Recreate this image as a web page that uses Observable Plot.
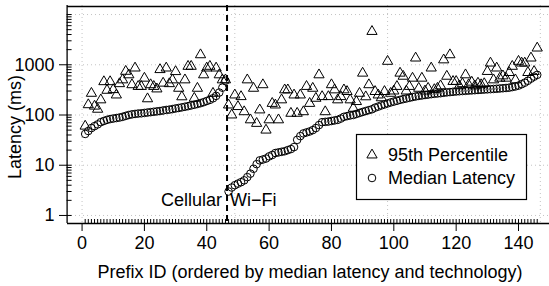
<!DOCTYPE html>
<html><head><meta charset="utf-8">
<script src="https://cdn.jsdelivr.net/npm/d3@7"></script>
<script src="https://cdn.jsdelivr.net/npm/@observablehq/plot@0.6"></script>
<style>
body{margin:0;background:#fff}
#chart{width:549px;height:286px;overflow:hidden;position:relative}
#chart svg{overflow:hidden}
</style>
</head><body><div id="chart"></div>
<script>
// Cellular prefixes (ordered by median latency)
const cellularMedian = [42,48,55,60,65,72,76,80,83,85,87,89,92,96,100,103,105,107,108,110,112,114,116,118,120,123,126,128,131,135,138,142,146,150,155,160,166,172,180,190,200,215,240,280,350,480];
const cellularP95 = [60,160,270,150,130,200,460,310,460,320,250,420,500,740,630,400,860,370,370,540,210,400,370,330,800,430,860,420,500,730,340,230,500,930,930,215,340,1580,630,860,930,270,860,630,500,500];
// Wi-Fi prefixes (ordered by median latency)
const wifiMedian = [3.0,3.6,4.0,4.3,4.6,5.0,5.8,6.8,8.5,10.5,12.5,13,13.6,15,16,17.5,18,18.5,19,20,21,23,32,38,43,45,47,50,55,63,72,73,74,76,78,80,85,92,95,98,100,105,110,115,120,125,130,140,147,155,162,170,178,185,192,200,207,213,220,228,234,240,245,250,255,260,264,268,272,277,282,286,290,294,297,300,303,306,309,312,315,318,321,324,327,330,333,337,341,345,350,360,370,385,410,440,480,530,580,630];
const wifiP95 = [158,100,250,147,232,116,500,80,340,68,126,400,50,80,170,158,80,200,316,316,108,250,108,250,116,370,170,340,215,630,232,116,232,400,316,200,232,316,293,200,136,185,270,680,230,400,4600,293,250,220,293,1170,270,300,370,680,590,300,370,540,1360,340,540,300,340,860,320,340,380,1250,590,1580,465,465,380,420,630,400,450,380,430,400,420,735,1080,500,860,540,600,540,700,930,500,1170,1080,1080,700,1360,735,2150];

const xTicks = [0,20,40,60,80,100,120,140];
const yTicks = [1,10,100,1000];
const gridX = [0,49,98,147];
const gridY = [1,10,100,1000,10000];
const boundary = 46.5;
const regionLabels = [
  {text:"Cellular", y:2, anchor:"end", dx:-5},
  {text:"Wi\u2212Fi", y:2, anchor:"start", dx:3}
];
const legendLabels = ["95th Percentile","Median Latency"];
const xTitle = "Prefix ID (ordered by median latency and technology)";
const yTitle = "Latency (ms)";

const rows = [];
cellularMedian.forEach((v,i)=>rows.push({id:i+1, tech:"Cellular", median:v, p95:cellularP95[i]}));
wifiMedian.forEach((v,i)=>rows.push({id:cellularMedian.length+i+1, tech:"Wi-Fi", median:v, p95:wifiP95[i]}));

const xMin = -4.8, xMax = 151.8;
const yMin = 10**-0.16, yMax = 10**4.16;
const minorY = [];
for (let k=0;k<=4;k++) for (let d=1;d<=9;d++){const v=d*10**k; if (v<=yMax) minorY.push(v);}
const rugTop = yMin*10**(4/50.25);

const font = "'Liberation Sans', Arial, Helvetica, sans-serif";
const gridStyle = {stroke:"#c4c4c4", strokeDasharray:"1,3", strokeWidth:1};

const chart = Plot.plot({
  width:549, height:286,
  marginLeft:67, marginRight:0, marginTop:5, marginBottom:63,
  x:{domain:[xMin,xMax], range:[66.6,554.8]},
  y:{type:"log", domain:[yMin,yMax], range:[223,6]},
  style:{fontFamily:font, fontSize:"18px", background:"white", color:"black"},
  marks:[
    Plot.ruleY(gridY, gridStyle),
    Plot.ruleX(gridX, gridStyle),
    Plot.ruleY(minorY, {x1:xMin, x2:xMin+1.6, stroke:"black", strokeWidth:1}),
    Plot.ruleX(rows, {x:"id", y1:yMin, y2:rugTop, stroke:"black", strokeWidth:1}),
    Plot.ruleX([boundary], {stroke:"black", strokeWidth:2, strokeDasharray:"6,4"}),
    Plot.dot(rows, {x:"id", y:"p95", symbol:"triangle", r:3.8, stroke:"black", fill:"none", strokeWidth:1}),
    Plot.dot(rows, {x:"id", y:"median", symbol:"circle", r:3.8, stroke:"black", fill:"none", strokeWidth:1}),
    Plot.text(regionLabels, {x:()=>boundary, y:"y", text:"text", fontSize:18,
      render:(index, scales, values, dims, ctx, next)=>{const g=next(index, scales, values, dims, ctx);
        d3.select(g).selectAll("text").each(function(d,i){const r=regionLabels[index[i]]; d3.select(this).attr("text-anchor", r.anchor).attr("dx", r.dx);}); return g;}}),
    Plot.ruleY([yMin, yMax], {stroke:"black", strokeWidth:1.3}),
    Plot.ruleX([xMin], {stroke:"black", strokeWidth:1.3}),
    Plot.axisX({ticks:xTicks, tickSize:8, tickPadding:5, tickFormat:d3.format("d"), label:null, fontSize:18}),
    Plot.axisY({ticks:yTicks, tickSize:8, tickPadding:5, tickFormat:d=>String(d), label:null, fontSize:18})
  ]
});

const svg = d3.select(chart);
// axis titles
svg.append("text").attr("font-family", font).attr("font-size", 18).attr("text-anchor","middle")
  .attr("x", 310).attr("y", 272).attr("dy","0.35em").text(xTitle);
svg.append("text").attr("font-family", font).attr("font-size", 18).attr("text-anchor","middle")
  .attr("transform","translate(15,127) rotate(-90)").attr("dy","0.35em").text(yTitle);

// legend
const lg = svg.append("g").attr("font-family", font).attr("font-size", 18).attr("text-anchor","start");
lg.append("rect").attr("x",356.5).attr("y",134.5).attr("width",170).attr("height",65)
  .attr("fill","white").attr("stroke","black").attr("stroke-width",1.2);
const sym = [d3.symbol(d3.symbolTriangle, 3.8*3.8*Math.PI)(), d3.symbol(d3.symbolCircle, 3.8*3.8*Math.PI)()];
legendLabels.forEach((t,i)=>{
  const cy = 155 + i*23;
  lg.append("path").attr("d", sym[i]).attr("transform",`translate(372,${cy})`).attr("fill","none").attr("stroke","black");
  lg.append("text").attr("x",388).attr("y",cy).attr("dy","0.35em").attr("text-anchor","start").text(t);
});

document.getElementById("chart").appendChild(chart);
</script>
</body></html>
